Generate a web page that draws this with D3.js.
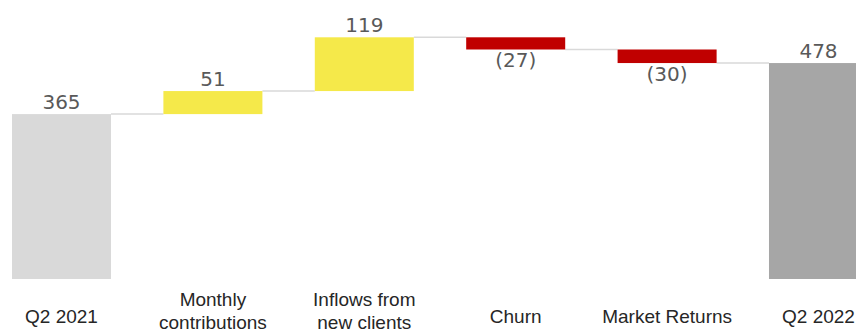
<!DOCTYPE html>
<html lang="en">
  <head>
    <meta charset="UTF-8" />
    <title>AUM waterfall Q2 2021 to Q2 2022</title>
    <style>
      body {
        margin: 0;
        background-color: #fff;
      }
      #chart {
        display: block;
        overflow: hidden;
      }
      .value-label {
        font-family: "DejaVu Sans", sans-serif;
        font-size: 20px;
        fill: #595959;
      }
      .cat-label {
        font-family: "Liberation Sans", Arial, sans-serif;
        font-size: 19px;
        fill: #262626;
      }
    </style>
  </head>
  <body>
    <svg id="chart" width="856" height="335"></svg>
    <script src="https://d3js.org/d3.v7.min.js"></script>
    <script>
      // data
      const categories = [
        ["Q2 2021"],
        ["Monthly", "contributions"],
        ["Inflows from", "new clients"],
        ["Churn"],
        ["Market Returns"],
        ["Q2 2022"],
      ];
      const values = [365, 51, 119, -27, -30, 478];
      const kinds = ["start", "up", "up", "down", "down", "end"];

      const colors = {
        start: "#d9d9d9",
        up: "#f5e94a",
        down: "#c00000",
        end: "#a6a6a6",
      };

      // running totals for the floating bars
      let running = 0;
      const bars = values.map((v, i) => {
        let y0, y1;
        if (kinds[i] === "start" || kinds[i] === "end") {
          y0 = 0;
          y1 = v;
          running = v;
        } else {
          y0 = running;
          y1 = running + v;
          running = y1;
        }
        return { i, v, kind: kinds[i], y0, y1, lines: categories[i] };
      });

      const svg = d3.select("#chart");

      const x = d3
        .scaleBand()
        .domain(d3.range(values.length))
        .range([-14.2, 894.2])
        .paddingInner(0.346)
        .paddingOuter(0.173);

      const y = d3.scaleLinear().domain([0, 535]).range([279, 37.3]);

      // connectors between bars
      svg
        .append("g")
        .selectAll("line")
        .data(bars.slice(0, -1))
        .join("line")
        .attr("x1", (d) => x(d.i) + x.bandwidth())
        .attr("x2", (d) => x(d.i + 1))
        .attr("y1", (d) => y(d.y1))
        .attr("y2", (d) => y(d.y1))
        .attr("stroke", "#d9d9d9")
        .attr("stroke-width", 1.5);

      svg
        .append("g")
        .selectAll("rect")
        .data(bars)
        .join("rect")
        .attr("x", (d) => x(d.i))
        .attr("width", x.bandwidth())
        .attr("y", (d) => y(Math.max(d.y0, d.y1)))
        .attr("height", (d) => Math.abs(y(d.y0) - y(d.y1)))
        .attr("fill", (d) => colors[d.kind]);

      svg
        .append("g")
        .selectAll("text")
        .data(bars)
        .join("text")
        .attr("class", "value-label")
        .attr("text-anchor", "middle")
        .attr("x", (d) => x(d.i) + x.bandwidth() / 2)
        .attr("y", (d) =>
          d.v < 0 ? y(Math.min(d.y0, d.y1)) + 18 : y(Math.max(d.y0, d.y1)) - 5
        )
        .text((d) => (d.v < 0 ? `(${-d.v})` : d.v));

      const cat = svg
        .append("g")
        .selectAll("text")
        .data(bars)
        .join("text")
        .attr("class", "cat-label")
        .attr("text-anchor", "middle")
        .attr("x", (d) => x(d.i) + x.bandwidth() / 2)
        .attr("y", (d) => (d.lines.length > 1 ? 306 : 323));

      cat
        .selectAll("tspan")
        .data((d) => d.lines.map((t) => ({ t, cx: x(d.i) + x.bandwidth() / 2 })))
        .join("tspan")
        .attr("x", (d) => d.cx)
        .attr("dy", (d, j) => (j === 0 ? 0 : 23))
        .text((d) => d.t);
    </script>
  </body>
</html>
